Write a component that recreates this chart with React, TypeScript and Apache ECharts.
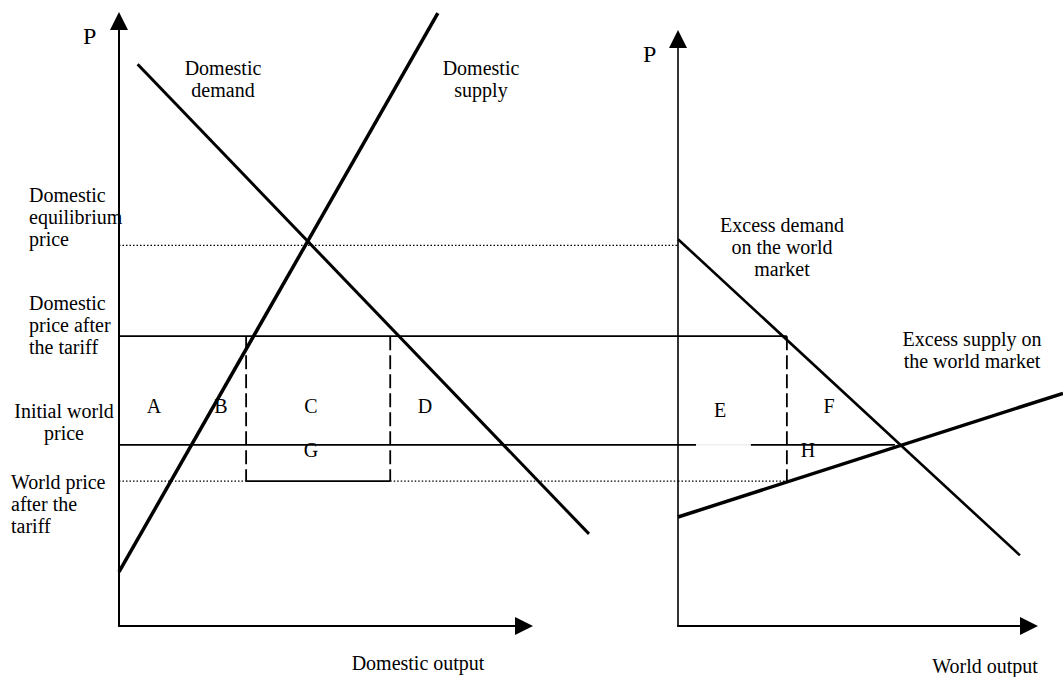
import React, { useEffect, useRef } from "react";
import * as echarts from "echarts";

// ---- values (price units 0..100, quantity units) ----
const domesticEquilibriumPrice = 62;
const domesticPriceAfterTariff = 47.2;
const initialWorldPrice = 29.5;
const worldPriceAfterTariff = 23.6;

const domesticDemand = [[4.5, 91.5], [113.5, 15]];
const domesticSupply = [[0, 8.8], [77, 99.8]];
const tariffQuantities = [30.7, 65.5];

const excessDemand = [[0, 63], [82.6, 11.5]];
const excessSupply = [[0, 17.75], [93, 37.9]];
const worldQuantityAfterTariff = 26.3;
const worldPriceLineGap = [4.35, 17.6];
const worldPriceLineEnd = 52.4;

const domesticAxisMax = 135;
const worldAxisMax = 93;
const priceAxisMax = 100;

const FONT = '"Liberation Serif", "Times New Roman", serif';

function seg(grid: number, pts: number[][], width: number, type: any = "solid", color = "#000") {
  return {
    type: "line",
    xAxisIndex: grid,
    yAxisIndex: grid,
    data: pts,
    symbol: "none",
    silent: true,
    clip: false,
    lineStyle: { color, width, type },
  };
}

function txt(text: string, x: number, y: number, align = "left", size = 20) {
  return {
    type: "text",
    x,
    y,
    silent: true,
    style: {
      text,
      fill: "#000",
      fontFamily: FONT,
      fontSize: size,
      align,
      verticalAlign: "top",
      lineHeight: size === 20 ? 22 : size,
    },
  };
}

export default function App() {
  const ref = useRef<HTMLDivElement>(null);
  useEffect(() => {
    if (!ref.current) return;
    const chart = echarts.init(ref.current, undefined, { renderer: "svg" });
    const hiddenAxis = (gridIndex: number, max: number) => ({
      gridIndex,
      type: "value",
      min: 0,
      max,
      show: false,
    });
    const shownAxis = (gridIndex: number, width: number) => ({
      gridIndex,
      type: "value",
      min: 0,
      max: 1,
      axisLine: {
        show: true,
        onZero: false,
        symbol: ["none", "triangle"],
        symbolSize: [18, 18],
        lineStyle: { color: "#000", width },
      },
      axisTick: { show: false },
      axisLabel: { show: false },
      splitLine: { show: false },
    });
    const [q0, q1] = tariffQuantities;
    const tP = domesticPriceAfterTariff;
    const wP = initialWorldPrice;
    const aP = worldPriceAfterTariff;
    const eP = domesticEquilibriumPrice;
    const wq = worldQuantityAfterTariff;
    const option: any = {
      animation: false,
      backgroundColor: "#fff",
      grid: [
        { left: 119, top: 12, width: 559, height: 614 },
        { left: 678, top: 12, width: 385, height: 614 },
        { left: 119, top: 21, width: 405, height: 605 },
        { left: 678, top: 39, width: 351, height: 587 },
      ],
      xAxis: [
        hiddenAxis(0, domesticAxisMax),
        hiddenAxis(1, worldAxisMax),
        shownAxis(2, 2),
        shownAxis(3, 2),
      ],
      yAxis: [
        hiddenAxis(0, priceAxisMax),
        hiddenAxis(1, priceAxisMax),
        shownAxis(2, 2),
        shownAxis(3, 1.6),
      ],
      series: [
        // left panel
        seg(0, [[0, eP], [domesticAxisMax, eP]], 1.2, [1.5, 2]),
        seg(0, [[0, tP], [domesticAxisMax, tP]], 1.8),
        seg(0, [[0, wP], [domesticAxisMax, wP]], 1.8),
        seg(0, [[0, aP], [q0, aP]], 1.2, [1.5, 2]),
        seg(0, [[q1, aP], [domesticAxisMax, aP]], 1.2, [1.5, 2]),
        seg(0, [[q0, aP], [q1, aP]], 1.8),
        seg(0, [[q0, tP], [q0, aP]], 1.8, [14, 5]),
        seg(0, [[q1, tP], [q1, aP]], 1.8, [14, 5]),
        seg(0, domesticDemand, 3),
        seg(0, domesticSupply, 3.5),
        // right panel
        seg(1, [[0, tP], [wq, tP]], 1.8),
        seg(1, [[0, wP], [worldPriceLineGap[0], wP]], 1.8),
        seg(1, [[worldPriceLineGap[0], wP], [worldPriceLineGap[1], wP]], 1, "solid", "#e6e6e6"),
        seg(1, [[worldPriceLineGap[1], wP], [worldPriceLineEnd, wP]], 1.8),
        seg(1, [[0, aP], [wq, aP]], 1.2, [1.5, 2]),
        seg(1, [[wq, tP], [wq, aP]], 1.8, [14, 5]),
        seg(1, excessDemand, 2.6),
        seg(1, excessSupply, 3.5),
      ],
      graphic: [
        txt("P", 83, 24, "left", 24),
        txt("P", 643, 42, "left", 24),
        txt("Domestic\ndemand", 223, 57, "center"),
        txt("Domestic\nsupply", 481, 57, "center"),
        txt("Domestic\nequilibrium\nprice", 29, 184),
        txt("Domestic\nprice after\nthe tariff", 29, 292),
        txt("Initial world\nprice", 64, 400, "center"),
        txt("World price\nafter the\ntariff", 11, 471),
        txt("A", 154, 395, "center"),
        txt("B", 221, 395, "center"),
        txt("C", 311, 395, "center"),
        txt("D", 425, 395, "center"),
        txt("G", 311, 439, "center"),
        txt("E", 720, 399, "center"),
        txt("F", 829, 395, "center"),
        txt("H", 808, 439, "center"),
        txt("Excess demand\non the world\nmarket", 782, 214, "center"),
        txt("Excess supply on\nthe world market", 972, 328, "center"),
        txt("Domestic output", 418, 652, "center"),
        txt("World output", 985, 655, "center"),
      ],
    };
    chart.setOption(option);
    return () => chart.dispose();
  }, []);
  return (
    <div
      ref={ref}
      style={{ position: "absolute", left: 0, top: 0, width: 1063, height: 677, background: "#fff" }}
    />
  );
}
